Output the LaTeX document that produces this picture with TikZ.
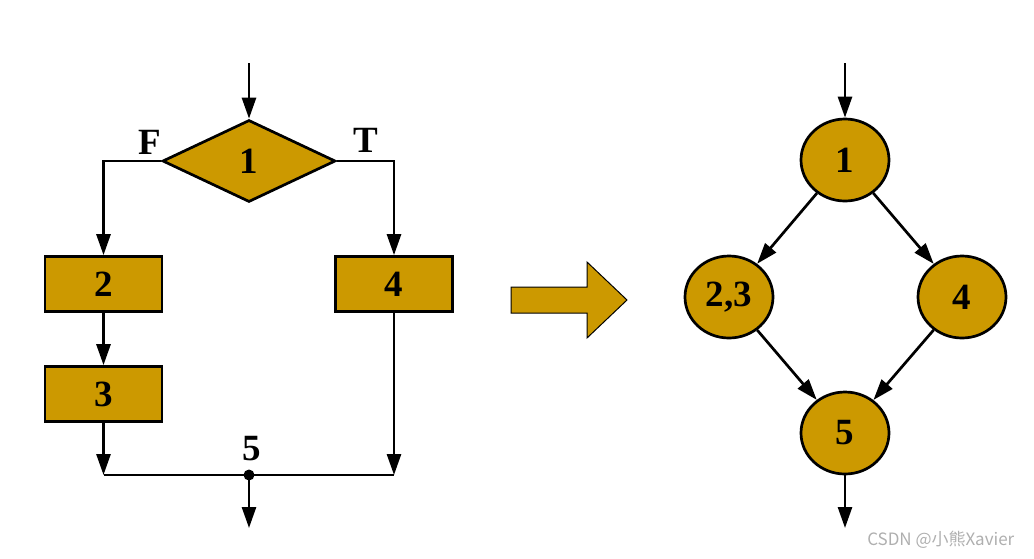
\documentclass[tikz,border=0pt]{standalone}
\usepackage{fontspec}
\setmainfont{Liberation Serif}
\newfontfamily\cjk{Noto Sans CJK SC}
\usetikzlibrary{arrows.meta,shapes.geometric}
\definecolor{gold}{RGB}{204,153,0}
\definecolor{wm}{RGB}{175,175,175}
\begin{document}
\begin{tikzpicture}[x=1pt,y=-1pt,line width=2.7pt,
  lbl/.style={font=\fontsize{37}{42}\selectfont\bfseries},
  blk/.style={lbl,draw,fill=gold,minimum width=117pt,minimum height=55pt,inner sep=0pt},
  dia/.style={lbl,draw,fill=gold,diamond,minimum width=173pt,minimum height=82pt,inner sep=0pt},
  circ/.style={lbl,draw,fill=gold,ellipse,minimum width=88pt,minimum height=82pt,inner sep=0pt},
  arr/.style={-{Triangle[length=21pt,width=14pt]}}]
\useasboundingbox (0,0) rectangle (1034,558);
% left flowchart
\coordinate (in1) at (249,63);
\node[dia] (d1) at (249,161) {1};
\node[blk] (b2) at (103.5,284) {2};
\node[blk] (b3) at (103.5,394) {3};
\node[blk] (b4) at (394,284) {4};
\coordinate (j3) at (103.5,475);
\coordinate (j4) at (394,475);
\coordinate (j5) at (249,475);
\coordinate (out1) at (249,528);
\node[lbl] (lf) at (150,142) {F};
\node[lbl] (lt) at (366,140) {T};
\node[lbl] (l5) at (252,449) {5};
\draw[arr] (in1) -- (d1.north);
\draw[arr] (d1.west) -| (b2.north);
\draw[arr] (d1.east) -| (b4.north);
\draw[arr] (b2) -- (b3);
\draw[arr] (b3.south) -- (j3);
\draw[arr] (b4.south) -- (j4);
\draw (j3) -- (j4);
\fill (j5) circle (5.5);
\draw[arr] (j5) -- (out1);
% big arrow
\draw[line width=1pt,fill=gold] (511,287) -- (587,287) -- (587,262) -- (627,300) -- (587,338) -- (587,313) -- (511,313) -- cycle;
% right graph
\coordinate (in2) at (845,63);
\node[circ] (n1) at (845,160) {1};
\node[circ] (n23) at (729,297) {2,3};
\node[circ] (n4) at (962,297) {4};
\node[circ] (n5) at (845,433) {5};
\coordinate (out2) at (845,528);
\draw[arr] (in2) -- (n1);
\draw[arr] (n1) -- (n23);
\draw[arr] (n1) -- (n4);
\draw[arr] (n23) -- (n5);
\draw[arr] (n4) -- (n5);
\draw[arr] (n5) -- (out2);
\node[font=\cjk\fontsize{17}{20}\selectfont,text=wm,anchor=east] (wmk) at (1019,540) {CSDN @小熊Xavier};
\end{tikzpicture}
\end{document}
